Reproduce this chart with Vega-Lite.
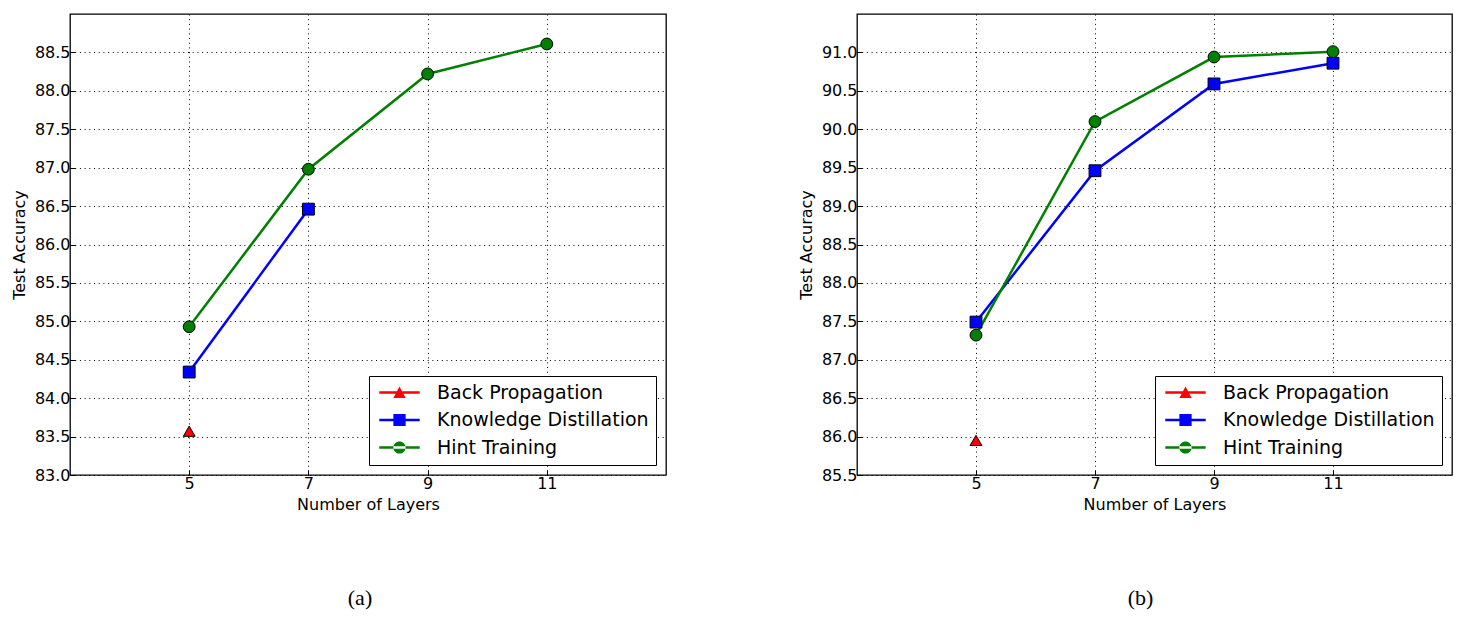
{
  "$schema": "https://vega.github.io/schema/vega-lite/v6.json",
  "background": "white",
  "padding": {"left": 10, "top": 13, "right": 0, "bottom": 0},
  "config": {
    "font": "DejaVu Sans",
    "view": {"stroke": "black", "strokeWidth": 1.3},
    "axis": {
      "domain": false,
      "grid": true,
      "gridColor": "black",
      "gridOpacity": 1,
      "gridWidth": 1,
      "gridDash": [1, 3.7],
      "tickColor": "black",
      "tickSize": -5,
      "labelFont": "DejaVu Sans",
      "labelFontSize": 16,
      "labelColor": "black",
      "labelPadding": 5,
      "titleFont": "DejaVu Sans",
      "titleFontSize": 16,
      "titleFontWeight": "normal",
      "titleColor": "black"
    },
    "legend": {
      "orient": "bottom-right",
      "offset": 10,
      "labelFont": "DejaVu Sans",
      "labelFontSize": 19,
      "labelColor": "black",
      "labelLimit": 400,
      "strokeColor": "black",
      "fillColor": "white",
      "padding": 7,
      "rowPadding": 7.5,
      "labelOffset": 28,
      "symbolSize": 150,
      "symbolOffset": 14
    },
    "title": {"font": "Liberation Serif", "fontSize": 22, "fontWeight": "normal", "color": "black"}
  },
  "data": {
    "values": [
      {"panel": "a", "method": "Back Propagation", "layers": 5, "acc": 83.57},
      {"panel": "a", "method": "Knowledge Distillation", "layers": 5, "acc": 84.34},
      {"panel": "a", "method": "Knowledge Distillation", "layers": 7, "acc": 86.46},
      {"panel": "a", "method": "Hint Training", "layers": 5, "acc": 84.93},
      {"panel": "a", "method": "Hint Training", "layers": 7, "acc": 86.98},
      {"panel": "a", "method": "Hint Training", "layers": 9, "acc": 88.22},
      {"panel": "a", "method": "Hint Training", "layers": 11, "acc": 88.61},
      {"panel": "b", "method": "Back Propagation", "layers": 5, "acc": 85.95},
      {"panel": "b", "method": "Knowledge Distillation", "layers": 5, "acc": 87.49},
      {"panel": "b", "method": "Knowledge Distillation", "layers": 7, "acc": 89.46},
      {"panel": "b", "method": "Knowledge Distillation", "layers": 9, "acc": 90.59},
      {"panel": "b", "method": "Knowledge Distillation", "layers": 11, "acc": 90.86},
      {"panel": "b", "method": "Hint Training", "layers": 5, "acc": 87.32},
      {"panel": "b", "method": "Hint Training", "layers": 7, "acc": 90.1},
      {"panel": "b", "method": "Hint Training", "layers": 9, "acc": 90.94},
      {"panel": "b", "method": "Hint Training", "layers": 11, "acc": 91.01}
    ]
  },
  "hconcat": [
    {
      "width": 596,
      "height": 461,
      "title": {"text": "(a)", "orient": "bottom", "offset": 76, "dx": -8},
      "transform": [{"filter": "datum.panel === 'a'"}],
      "encoding": {
        "x": {"field": "layers", "type": "quantitative", "title": "Number of Layers",
              "scale": {"domain": [3, 13], "nice": false, "zero": false},
              "axis": {"values": [5, 7, 9, 11], "titlePadding": 5}},
        "y": {"field": "acc", "type": "quantitative", "title": "Test Accuracy",
              "scale": {"domain": [83, 89], "nice": false, "zero": false},
              "axis": {"values": [83, 83.5, 84, 84.5, 85, 85.5, 86, 86.5, 87, 87.5, 88, 88.5], "format": ".1f", "titlePadding": 7}},
        "color": {"field": "method", "type": "nominal",
                  "scale": {"domain": ["Back Propagation", "Knowledge Distillation", "Hint Training"], "range": ["#ff0000", "#0000ff", "#008000"]},
                  "legend": {
                    "title": null,
                    "symbolType": "M-3.3,-0.2H3.3V0.2H-3.3Z M-1,0A1,1 0 1,0 1,0A1,1 0 1,0 -1,0Z",
                    "encode": {"symbols": {"update": {
                      "shape": {"signal": "datum.value === 'Back Propagation' ? 'M-3.3,-0.2H3.3V0.2H-3.3Z M0,-1L1,0.9L-1,0.9Z' : datum.value === 'Knowledge Distillation' ? 'M-3.3,-0.2H3.3V0.2H-3.3Z M-1,-1H1V1H-1Z' : 'M-3.3,-0.2H3.3V0.2H-3.3Z M-1,0A1,1 0 1,0 1,0A1,1 0 1,0 -1,0Z'"},
                      "strokeWidth": {"value": 0},
                      "fillOpacity": {"value": 1}
                    }}}
                  }}
      },
      "layer": [
        {"mark": {"type": "line", "strokeWidth": 2.5}},
        {
          "transform": [{"filter": "datum.method === 'Back Propagation'"}],
          "mark": {"type": "point", "shape": "triangle-up", "filled": true, "size": 140, "stroke": "black", "strokeWidth": 1, "opacity": 1}
        },
        {
          "transform": [{"filter": "datum.method === 'Knowledge Distillation'"}],
          "mark": {"type": "point", "shape": "square", "filled": true, "size": 140, "stroke": "black", "strokeWidth": 1, "opacity": 1}
        },
        {
          "transform": [{"filter": "datum.method === 'Hint Training'"}],
          "mark": {"type": "point", "shape": "circle", "filled": true, "size": 140, "stroke": "black", "strokeWidth": 1, "opacity": 1}
        }
      ]
    },
    {
      "width": 595,
      "height": 461,
      "title": {"text": "(b)", "orient": "bottom", "offset": 76, "dx": -14},
      "transform": [{"filter": "datum.panel === 'b'"}],
      "encoding": {
        "x": {"field": "layers", "type": "quantitative", "title": "Number of Layers",
              "scale": {"domain": [3, 13], "nice": false, "zero": false},
              "axis": {"values": [5, 7, 9, 11], "titlePadding": 5}},
        "y": {"field": "acc", "type": "quantitative", "title": "Test Accuracy",
              "scale": {"domain": [85.5, 91.5], "nice": false, "zero": false},
              "axis": {"values": [85.5, 86, 86.5, 87, 87.5, 88, 88.5, 89, 89.5, 90, 90.5, 91], "format": ".1f", "titlePadding": 7}},
        "color": {"field": "method", "type": "nominal",
                  "scale": {"domain": ["Back Propagation", "Knowledge Distillation", "Hint Training"], "range": ["#ff0000", "#0000ff", "#008000"]},
                  "legend": {
                    "title": null,
                    "symbolType": "M-3.3,-0.2H3.3V0.2H-3.3Z M-1,0A1,1 0 1,0 1,0A1,1 0 1,0 -1,0Z",
                    "encode": {"symbols": {"update": {
                      "shape": {"signal": "datum.value === 'Back Propagation' ? 'M-3.3,-0.2H3.3V0.2H-3.3Z M0,-1L1,0.9L-1,0.9Z' : datum.value === 'Knowledge Distillation' ? 'M-3.3,-0.2H3.3V0.2H-3.3Z M-1,-1H1V1H-1Z' : 'M-3.3,-0.2H3.3V0.2H-3.3Z M-1,0A1,1 0 1,0 1,0A1,1 0 1,0 -1,0Z'"},
                      "strokeWidth": {"value": 0},
                      "fillOpacity": {"value": 1}
                    }}}
                  }}
      },
      "layer": [
        {"mark": {"type": "line", "strokeWidth": 2.5}},
        {
          "transform": [{"filter": "datum.method === 'Back Propagation'"}],
          "mark": {"type": "point", "shape": "triangle-up", "filled": true, "size": 140, "stroke": "black", "strokeWidth": 1, "opacity": 1}
        },
        {
          "transform": [{"filter": "datum.method === 'Knowledge Distillation'"}],
          "mark": {"type": "point", "shape": "square", "filled": true, "size": 140, "stroke": "black", "strokeWidth": 1, "opacity": 1}
        },
        {
          "transform": [{"filter": "datum.method === 'Hint Training'"}],
          "mark": {"type": "point", "shape": "circle", "filled": true, "size": 140, "stroke": "black", "strokeWidth": 1, "opacity": 1}
        }
      ]
    }
  ],
  "spacing": 130,
  "resolve": {"scale": {"y": "independent", "color": "independent"},
              "legend": {"color": "independent"}}
}
